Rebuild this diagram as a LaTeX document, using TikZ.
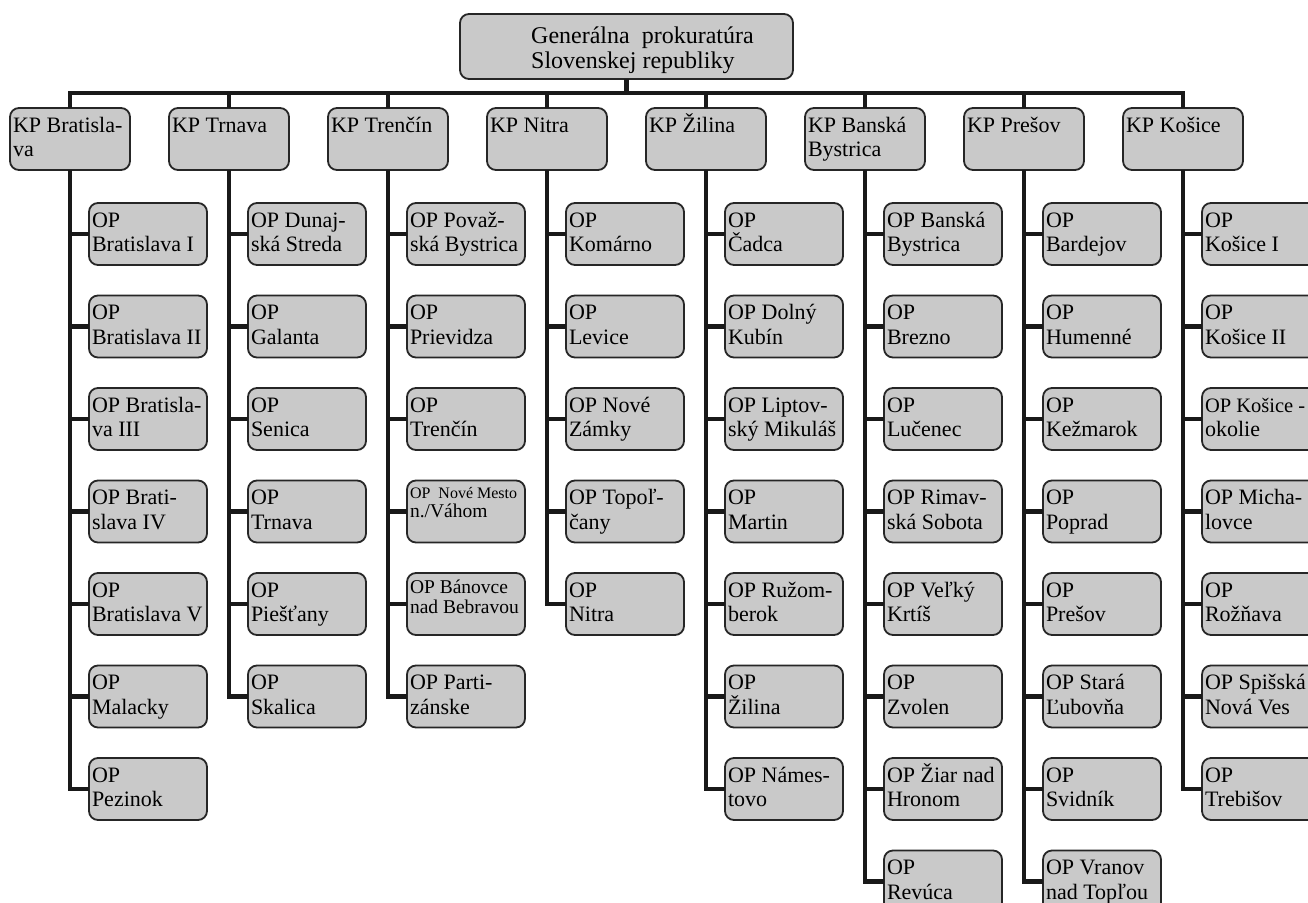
\documentclass[tikz,border=0pt]{standalone}
\usepackage{fontspec}
\setmainfont{Liberation Serif}
\tikzset{
  x=1pt, y=-1pt,
  boxbase/.style={draw=black!85, line width=1.8pt, fill=gray!42, rounded corners=9pt},
  kpbox/.style={boxbase, anchor=north west, inner xsep=3pt, inner ysep=4pt, outer sep=0pt},
  opbox/.style={boxbase, anchor=north west, inner xsep=3pt, inner ysep=4pt, outer sep=0pt},
  gpbox/.style={boxbase, minimum width=333pt, minimum height=65pt, outer sep=0pt},
  gptext/.style={anchor=base west, inner sep=0pt, font=\fontsize{24}{25}\selectfont},
  conn/.style={draw=black!90, line width=4.2pt, line join=miter},
}
\newcommand\BoxText[2][112pt]{\parbox[t][54pt][t]{#1}{\raggedright\rule{0pt}{20pt}#2}}
\newcommand\KPnode[3]{% #1 column, #2 name, #3 text
  \node[kpbox] (#2) at ({10+159*#1},108) {\BoxText[114pt]{#3}};
  \draw[conn] (#2.north) |- (bus);}
\newcommand\OPnode[4]{% #1 column, #2 row, #3 name, #4 text
  \node[opbox] (#3) at ({89+159*#1},{203+92.5*(#2-1)}) {\BoxText{#4}};
  \draw[conn] (kp#1.south) |- (#3.west);}
\begin{document}
\begin{tikzpicture}[font=\fontsize{22}{24.5}\selectfont]
\useasboundingbox (0,0) rectangle (1308,902);
\fill[white] (0,0) rectangle (1308,902);
\clip (0,0) rectangle (1308,902);

\node[gpbox] (gp) at (626.5,46.5) {};
\node[gptext] (gpt) at (531,43) {\parbox[t]{250pt}{\raggedright Generálna\ \ prokuratúra\\Slovenskej republiky}};
\coordinate (bus) at (626.5,93);
\draw[conn] (gp.south) -- (bus);

\KPnode{0}{kp0}{KP Bratisla-\\va}
\KPnode{1}{kp1}{KP Trnava}
\KPnode{2}{kp2}{KP Trenčín}
\KPnode{3}{kp3}{KP Nitra}
\KPnode{4}{kp4}{KP Žilina}
\KPnode{5}{kp5}{KP Banská\\Bystrica}
\KPnode{6}{kp6}{KP Prešov}
\KPnode{7}{kp7}{KP Košice}

% KP Bratislava
\OPnode{0}{1}{op01}{OP\\Bratislava I}
\OPnode{0}{2}{op02}{OP\\Bratislava II}
\OPnode{0}{3}{op03}{OP Bratisla-\\va III}
\OPnode{0}{4}{op04}{OP Brati-\\slava IV}
\OPnode{0}{5}{op05}{OP\\Bratislava V}
\OPnode{0}{6}{op06}{OP\\Malacky}
\OPnode{0}{7}{op07}{OP\\Pezinok}
% KP Trnava
\OPnode{1}{1}{op11}{OP Dunaj-\\ská Streda}
\OPnode{1}{2}{op12}{OP\\Galanta}
\OPnode{1}{3}{op13}{OP\\Senica}
\OPnode{1}{4}{op14}{OP\\Trnava}
\OPnode{1}{5}{op15}{OP\\Piešťany}
\OPnode{1}{6}{op16}{OP\\Skalica}
% KP Trencin
\OPnode{2}{1}{op21}{OP Považ-\\ská Bystrica}
\OPnode{2}{2}{op22}{OP\\Prievidza}
\OPnode{2}{3}{op23}{OP\\Trenčín}
\node[opbox] (op24) at ({89+159*2},{203+92.5*3}) {\parbox[t][54pt][t]{112pt}{\raggedright\fontsize{16}{18.5}\selectfont\rule{0pt}{14pt}OP\ \ Nové Mesto\\\fontsize{19.5}{18.5}\selectfont n./Váhom}};
\draw[conn] (kp2.south) |- (op24.west);
\node[opbox] (op25) at ({89+159*2},{203+92.5*4}) {\parbox[t][54pt][t]{112pt}{\raggedright\fontsize{19.5}{20.5}\selectfont\rule{0pt}{16pt}OP Bánovce\\nad Bebravou}};
\draw[conn] (kp2.south) |- (op25.west);
\OPnode{2}{6}{op26}{OP Parti-\\zánske}
% KP Nitra
\OPnode{3}{1}{op31}{OP\\Komárno}
\OPnode{3}{2}{op32}{OP\\Levice}
\OPnode{3}{3}{op33}{OP Nové\\Zámky}
\OPnode{3}{4}{op34}{OP Topoľ-\\čany}
\OPnode{3}{5}{op35}{OP\\Nitra}
% KP Zilina
\OPnode{4}{1}{op41}{OP\\Čadca}
\OPnode{4}{2}{op42}{OP Dolný\\Kubín}
\OPnode{4}{3}{op43}{OP Liptov-\\ský Mikuláš}
\OPnode{4}{4}{op44}{OP\\Martin}
\OPnode{4}{5}{op45}{OP Ružom-\\berok}
\OPnode{4}{6}{op46}{OP\\Žilina}
\OPnode{4}{7}{op47}{OP Námes-\\tovo}
% KP Banska Bystrica
\OPnode{5}{1}{op51}{OP Banská\\Bystrica}
\OPnode{5}{2}{op52}{OP\\Brezno}
\OPnode{5}{3}{op53}{OP\\Lučenec}
\OPnode{5}{4}{op54}{OP Rimav-\\ská Sobota}
\OPnode{5}{5}{op55}{OP Veľký\\Krtíš}
\OPnode{5}{6}{op56}{OP\\Zvolen}
\OPnode{5}{7}{op57}{OP Žiar nad\\Hronom}
\OPnode{5}{8}{op58}{OP\\Revúca}
% KP Presov
\OPnode{6}{1}{op61}{OP\\Bardejov}
\OPnode{6}{2}{op62}{OP\\Humenné}
\OPnode{6}{3}{op63}{OP\\Kežmarok}
\OPnode{6}{4}{op64}{OP\\Poprad}
\OPnode{6}{5}{op65}{OP\\Prešov}
\OPnode{6}{6}{op66}{OP Stará\\Ľubovňa}
\OPnode{6}{7}{op67}{OP\\Svidník}
\OPnode{6}{8}{op68}{OP Vranov\\nad Topľou}
% KP Kosice
\OPnode{7}{1}{op71}{OP\\Košice I}
\OPnode{7}{2}{op72}{OP\\Košice II}
\OPnode{7}{3}{op73}{{\fontsize{20.5}{24.5}\selectfont OP Košice -}\\okolie}
\OPnode{7}{4}{op74}{OP Micha-\\lovce}
\OPnode{7}{5}{op75}{OP\\Rožňava}
\OPnode{7}{6}{op76}{OP Spišská\\Nová Ves}
\OPnode{7}{7}{op77}{OP\\Trebišov}
\end{tikzpicture}
\end{document}
